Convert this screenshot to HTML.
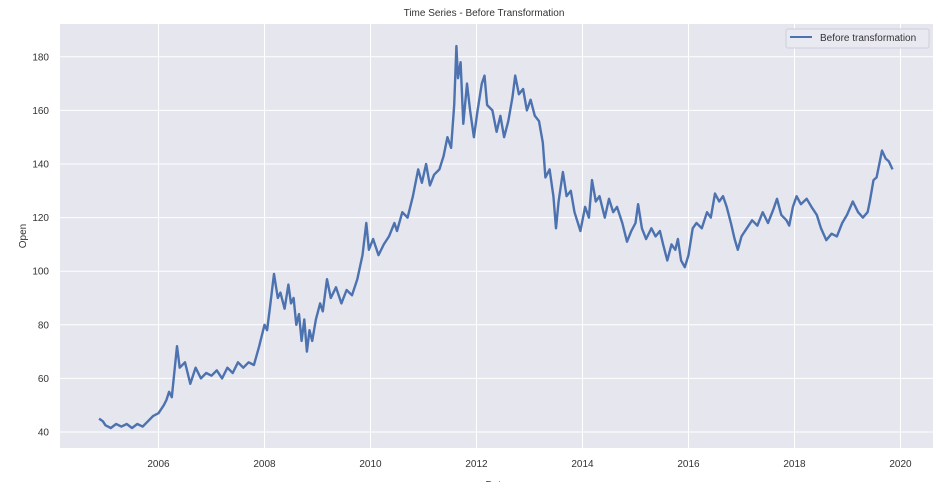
<!DOCTYPE html>
<html><head><meta charset="utf-8"><style>
body{margin:0;background:#fff;width:938px;height:482px;overflow:hidden}
svg text{font-family:"Liberation Sans",sans-serif;fill:#333}
</style></head><body>
<svg id="chart" width="938" height="482">
<rect x="60" y="24" width="873" height="424" fill="#e6e6ef"/>
<g id="grid"></g><g id="ticks"></g>
<path id="line" fill="none" stroke="#4c72b0" stroke-width="2.4" stroke-linejoin="round"/>
<text x="484" y="16" text-anchor="middle" font-size="10">Time Series - Before Transformation</text>
<text transform="translate(26,236) rotate(-90)" text-anchor="middle" font-size="10">Open</text>
<text x="496" y="488" text-anchor="middle" font-size="10">Date</text>
<g>
<rect x="786" y="29" width="143" height="19" rx="2" fill="#e9e9f2" stroke="#cfcfd8"/>
<line x1="790" y1="37" x2="812" y2="37" stroke="#4c72b0" stroke-width="2"/>
<text x="820" y="41" font-size="10">Before transformation</text>
</g>
</svg>
<script>
const dates=[2004.88,2004.95,2005.0,2005.1,2005.2,2005.3,2005.4,2005.5,2005.6,2005.7,2005.8,2005.9,2006.0,2006.1,2006.15,2006.2,2006.25,2006.35,2006.4,2006.5,2006.6,2006.7,2006.8,2006.9,2007.0,2007.1,2007.2,2007.3,2007.4,2007.5,2007.6,2007.7,2007.8,2007.9,2008.0,2008.05,2008.1,2008.18,2008.25,2008.3,2008.38,2008.45,2008.5,2008.55,2008.6,2008.65,2008.7,2008.75,2008.8,2008.85,2008.9,2008.97,2009.05,2009.1,2009.18,2009.25,2009.35,2009.45,2009.55,2009.65,2009.75,2009.85,2009.92,2009.97,2010.05,2010.15,2010.25,2010.35,2010.45,2010.5,2010.6,2010.7,2010.8,2010.9,2010.97,2011.05,2011.12,2011.2,2011.3,2011.38,2011.45,2011.52,2011.58,2011.62,2011.65,2011.7,2011.75,2011.82,2011.88,2011.95,2012.02,2012.1,2012.15,2012.2,2012.3,2012.38,2012.45,2012.52,2012.6,2012.68,2012.73,2012.8,2012.88,2012.95,2013.02,2013.1,2013.18,2013.25,2013.3,2013.38,2013.45,2013.5,2013.55,2013.63,2013.7,2013.78,2013.85,2013.96,2014.05,2014.12,2014.18,2014.25,2014.32,2014.42,2014.5,2014.58,2014.65,2014.75,2014.84,2014.92,2015.0,2015.05,2015.12,2015.2,2015.3,2015.38,2015.46,2015.52,2015.6,2015.68,2015.75,2015.8,2015.86,2015.93,2016.0,2016.08,2016.15,2016.25,2016.35,2016.42,2016.5,2016.58,2016.65,2016.72,2016.8,2016.87,2016.93,2017.0,2017.1,2017.2,2017.3,2017.4,2017.5,2017.6,2017.67,2017.75,2017.85,2017.9,2017.97,2018.04,2018.12,2018.23,2018.32,2018.42,2018.5,2018.6,2018.7,2018.8,2018.9,2018.99,2019.1,2019.2,2019.29,2019.38,2019.42,2019.49,2019.55,2019.6,2019.65,2019.72,2019.78,2019.85];
const openValues=[45,44,42.5,41.5,43,42,43,41.5,43,42,44,46,47,50,52,55,53,72,64,66,58,64,60,62,61,63,60,64,62,66,64,66,65,72,80,78,86,99,90,92,86,95,88,90,80,84,74,82,70,78,74,82,88,85,97,90,94,88,93,91,97,106,118,108,112,106,110,113,118,115,122,120,128,138,133,140,132,136,138,143,150,146,162,184,172,178,155,170,160,150,160,170,173,162,160,152,158,150,156,165,173,166,168,160,164,158,156,148,135,138,128,116,126,137,128,130,122,115,124,120,134,126,128,120,127,122,124,118,111,115,118,125,116,112,116,113,115,110,104,110,108,112,104,101.5,106,116,118,116,122,120,129,126,128,124,118,112,108,113,116,119,117,122,118,123,127,121,119,117,124,128,125,127,124,121,116,111.6,114,113,118,121,126,122,120,122,126,134,135,140,145,142,141,138];
const xTicks=[2006,2008,2010,2012,2014,2016,2018,2020];
const yTicks=[40,60,80,100,120,140,160,180];
const xs=y=>158.5+(y-2006)*53;
const ys=v=>432-(v-40)*2.68;
const NS='http://www.w3.org/2000/svg';
const grid=document.getElementById('grid'),ticks=document.getElementById('ticks');
xTicks.forEach(t=>{
  const l=document.createElementNS(NS,'line');
  l.setAttribute('x1',xs(t));l.setAttribute('x2',xs(t));l.setAttribute('y1',24);l.setAttribute('y2',448);
  l.setAttribute('stroke','#fff');l.setAttribute('stroke-width','1');
  
  
  grid.appendChild(l);
  const tx=document.createElementNS(NS,'text');
  tx.setAttribute('x',xs(t));tx.setAttribute('y',467);tx.setAttribute('text-anchor','middle');tx.setAttribute('font-size','10');
  tx.textContent=t;
  
  
  ticks.appendChild(tx);
});
yTicks.forEach(t=>{
  const l=document.createElementNS(NS,'line');
  l.setAttribute('x1',60);l.setAttribute('x2',933);l.setAttribute('y1',ys(t));l.setAttribute('y2',ys(t));
  l.setAttribute('stroke','#fff');l.setAttribute('stroke-width','1');
  
  
  grid.appendChild(l);
  const tx=document.createElementNS(NS,'text');
  tx.setAttribute('x',49);tx.setAttribute('y',ys(t)+3.5);tx.setAttribute('text-anchor','end');tx.setAttribute('font-size','10');
  tx.textContent=t;
  
  
  ticks.appendChild(tx);
});
let d='';
dates.forEach((t,i)=>{d+=(i?'L':'M')+xs(t).toFixed(1)+','+ys(openValues[i]).toFixed(1);});
document.getElementById('line').setAttribute('d',d);
</script>
</body></html>
